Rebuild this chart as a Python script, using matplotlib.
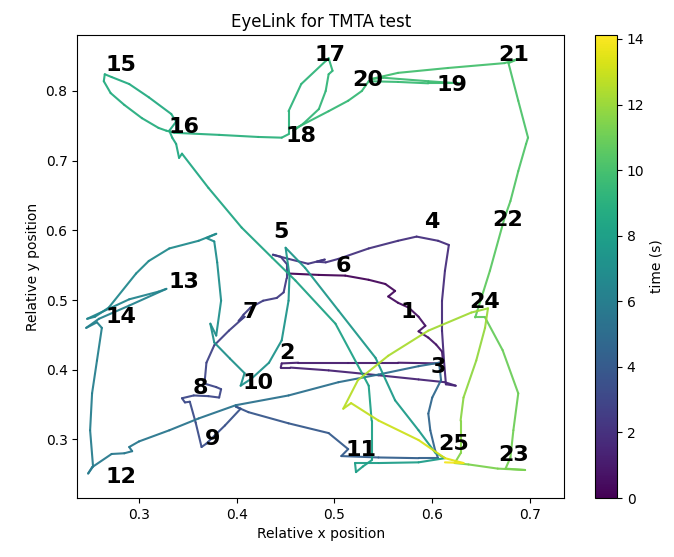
import numpy as np
import matplotlib
matplotlib.use("Agg")
import matplotlib.pyplot as plt
from matplotlib.collections import LineCollection
from matplotlib.colors import Normalize

# Gaze trajectory (relative screen coordinates) and time stamps (s)
gaze_x = [0.453, 0.484, 0.511, 0.535, 0.552, 0.562, 0.555, 0.565, 0.576, 0.586,
          0.593, 0.586, 0.596, 0.604, 0.610, 0.611, 0.606, 0.565, 0.514, 0.463,
          0.446, 0.445, 0.455, 0.494, 0.545, 0.586, 0.613, 0.624, 0.614, 0.612,
          0.610, 0.610, 0.613, 0.617, 0.606, 0.584, 0.565, 0.535, 0.504, 0.491,
          0.482, 0.490, 0.473, 0.453, 0.437, 0.445, 0.451, 0.451, 0.448, 0.441,
          0.427, 0.414, 0.407, 0.402, 0.408, 0.392, 0.377, 0.369, 0.367, 0.379,
          0.384, 0.382, 0.371, 0.356, 0.344, 0.347, 0.352, 0.358, 0.364, 0.369,
          0.388, 0.404, 0.399, 0.412, 0.453, 0.494, 0.514, 0.507, 0.545, 0.586,
          0.606, 0.603, 0.598, 0.596, 0.600, 0.609, 0.607, 0.586, 0.545, 0.504,
          0.453, 0.399, 0.361, 0.331, 0.300, 0.290, 0.293, 0.285, 0.272, 0.252,
          0.248, 0.253, 0.250, 0.252, 0.257, 0.262, 0.257, 0.246, 0.259, 0.290,
          0.328, 0.320, 0.290, 0.247, 0.255, 0.269, 0.297, 0.310, 0.331, 0.361,
          0.379, 0.369, 0.377, 0.380, 0.384, 0.379, 0.373, 0.377, 0.393, 0.408,
          0.404, 0.415, 0.433, 0.446, 0.453, 0.454, 0.450, 0.470, 0.504, 0.542,
          0.562, 0.586, 0.603, 0.613, 0.586, 0.545, 0.521, 0.522, 0.529, 0.538,
          0.538, 0.535, 0.501, 0.460, 0.436, 0.405, 0.371, 0.344, 0.341, 0.338,
          0.334, 0.331,
          0.338, 0.333, 0.310, 0.290, 0.272, 0.265, 0.264, 0.271, 0.285, 0.303,
          0.320, 0.328,
          0.336, 0.382, 0.422, 0.446, 0.453, 0.453, 0.466, 0.491,
          0.494, 0.498, 0.494, 0.491, 0.484, 0.468, 0.458, 0.461, 0.494, 0.514,
          0.528, 0.535, 0.565, 0.596, 0.627, 0.596, 0.550, 0.537, 0.565, 0.616,
          0.674, 0.688, 0.678, 0.688, 0.698, 0.696, 0.688, 0.680, 0.674, 0.659,
          0.644, 0.654, 0.672, 0.688, 0.683, 0.680, 0.675, 0.695, 0.667, 0.637,
          0.623, 0.629, 0.629, 0.632, 0.645, 0.654, 0.657, 0.640, 0.596, 0.555,
          0.524, 0.509, 0.517, 0.545, 0.586, 0.613, 0.632, 0.613]
gaze_y = [0.538, 0.536, 0.535, 0.529, 0.523, 0.513, 0.505, 0.496, 0.489, 0.476,
          0.463, 0.455, 0.446, 0.436, 0.426, 0.413, 0.409, 0.410, 0.410, 0.410,
          0.409, 0.403, 0.403, 0.399, 0.392, 0.386, 0.382, 0.377, 0.379, 0.413,
          0.456, 0.499, 0.542, 0.579, 0.585, 0.591, 0.585, 0.574, 0.559, 0.554,
          0.555, 0.558, 0.552, 0.559, 0.565, 0.562, 0.552, 0.531, 0.511, 0.503,
          0.499, 0.489, 0.479, 0.470, 0.476, 0.456, 0.435, 0.410, 0.380, 0.375,
          0.372, 0.360, 0.362, 0.363, 0.359, 0.353, 0.354, 0.324, 0.289, 0.294,
          0.320, 0.344, 0.347, 0.339, 0.323, 0.309, 0.286, 0.276, 0.274, 0.273,
          0.273, 0.284, 0.313, 0.337, 0.360, 0.385, 0.410, 0.405, 0.393, 0.382,
          0.363, 0.349, 0.330, 0.313, 0.297, 0.289, 0.283, 0.280, 0.279, 0.260,
          0.251, 0.261, 0.313, 0.366, 0.413, 0.460, 0.468, 0.460, 0.473, 0.492,
          0.516, 0.512, 0.501, 0.473, 0.476, 0.489, 0.538, 0.556, 0.574, 0.585,
          0.595, 0.589, 0.584, 0.554, 0.499, 0.449, 0.466, 0.439, 0.416, 0.395,
          0.377, 0.387, 0.410, 0.442, 0.499, 0.535, 0.575, 0.546, 0.485, 0.417,
          0.356, 0.313, 0.281, 0.273, 0.267, 0.266, 0.266, 0.253, 0.261, 0.270,
          0.327, 0.377, 0.466, 0.528, 0.561, 0.604, 0.661, 0.710, 0.704, 0.724,
          0.733, 0.743,
          0.756, 0.767, 0.791, 0.810, 0.820, 0.824, 0.814, 0.797, 0.780, 0.761,
          0.747, 0.743,
          0.740, 0.737, 0.734, 0.733, 0.738, 0.771, 0.810, 0.843,
          0.847, 0.829, 0.824, 0.800, 0.774, 0.753, 0.743, 0.747, 0.771, 0.786,
          0.800, 0.814, 0.813, 0.811, 0.811, 0.814, 0.819, 0.817, 0.826, 0.833,
          0.840, 0.846, 0.840, 0.786, 0.733, 0.724, 0.685, 0.642, 0.618, 0.542,
          0.475, 0.475, 0.428, 0.366, 0.313, 0.274, 0.258, 0.256, 0.258, 0.264,
          0.266, 0.280, 0.327, 0.360, 0.413, 0.460, 0.488, 0.482, 0.456, 0.420,
          0.385, 0.344, 0.352, 0.327, 0.299, 0.273, 0.266, 0.267]
gaze_t = [0.00, 0.08, 0.16, 0.24, 0.32, 0.38, 0.43, 0.48, 0.54, 0.60,
          0.66, 0.70, 0.75, 0.80, 0.85, 0.90, 0.93, 1.00, 1.08, 1.16,
          1.20, 1.22, 1.25, 1.32, 1.40, 1.46, 1.50, 1.53, 1.55, 1.62,
          1.70, 1.77, 1.84, 1.90, 1.93, 1.97, 2.00, 2.06, 2.13, 2.17,
          2.20, 2.22, 2.26, 2.31, 2.36, 2.39, 2.42, 2.46, 2.50, 2.53,
          2.57, 2.62, 2.66, 2.69, 2.71, 2.76, 2.83, 2.89, 2.96, 3.00,
          3.02, 3.05, 3.08, 3.12, 3.16, 3.19, 3.21, 3.30, 3.40, 3.44,
          3.55, 3.65, 3.68, 3.74, 3.88, 4.00, 4.10, 4.16, 4.25, 4.35,
          4.42, 4.46, 4.55, 4.62, 4.70, 4.80, 4.88, 4.95, 5.05, 5.15,
          5.27, 5.38, 5.47, 5.55, 5.62, 5.65, 5.67, 5.70, 5.73, 5.80,
          5.83, 5.86, 5.95, 6.03, 6.10, 6.17, 6.19, 6.21, 6.24, 6.30,
          6.38, 6.40, 6.46, 6.53, 6.55, 6.59, 6.66, 6.70, 6.75, 6.80,
          6.84, 6.86, 6.88, 6.92, 6.98, 7.03, 7.05, 7.08, 7.12, 7.16,
          7.19, 7.22, 7.26, 7.31, 7.37, 7.41, 7.45, 7.50, 7.57, 7.64,
          7.70, 7.75, 7.79, 7.81, 7.85, 7.89, 7.92, 7.94, 7.96, 7.98,
          8.03, 8.08, 8.17, 8.25, 8.30, 8.36, 8.43, 8.49, 8.50, 8.52,
          8.54, 8.56,
          8.58, 8.60, 8.64, 8.68, 8.71, 8.73, 8.75, 8.78, 8.81, 8.85,
          8.89, 8.91,
          8.93, 9.00, 9.06, 9.10, 9.12, 9.16, 9.21, 9.26,
          9.27, 9.30, 9.31, 9.34, 9.37, 9.40, 9.42, 9.43, 9.48, 9.51,
          9.54, 9.56, 9.61, 9.65, 9.69, 9.73, 9.79, 9.81, 9.86, 9.93,
          10.02, 10.05, 10.07, 10.15, 10.24, 10.26, 10.33, 10.40, 10.45, 10.60,
          10.75, 10.78, 10.88, 10.98, 11.07, 11.14, 11.18, 11.23, 11.30, 11.40,
          11.45, 11.50, 11.62, 11.72, 11.85, 11.95, 12.02, 12.10, 12.25, 12.42,
          12.56, 12.70, 12.73, 12.90, 13.15, 13.40, 13.60, 14.10]

# Target labels (TMT numbers) and their positions
target_labels = [str(i) for i in range(1, 26)]
target_x = [0.5755, 0.4510, 0.6061, 0.6000, 0.4449, 0.5092, 0.4143, 0.3633, 0.3755, 0.4214,
            0.5276, 0.2816, 0.3459, 0.2816, 0.2816, 0.3459, 0.4959, 0.4653, 0.6204, 0.5337,
            0.6837, 0.6776, 0.6837, 0.6531, 0.6214]
target_y = [0.4834, 0.4246, 0.4032, 0.6123, 0.5980, 0.5493, 0.4834, 0.3731, 0.3000, 0.3802,
            0.2842, 0.2456, 0.5264, 0.4762, 0.8372, 0.7484, 0.8516, 0.7355, 0.8086, 0.8158,
            0.8516, 0.6152, 0.2771, 0.4976, 0.2928]

t_max = 14.12
cbar_ticks = [0, 2, 4, 6, 8, 10, 12, 14]

fig = plt.figure(figsize=(6.74, 5.57), dpi=100)
ax = fig.add_axes([0.1147, 0.1059, 0.7221, 0.8312])
cax = fig.add_axes([0.8828, 0.1059, 0.0326, 0.8312])

pts = np.column_stack([gaze_x, gaze_y])
segs = np.stack([pts[:-1], pts[1:]], axis=1)
tt = np.asarray(gaze_t)
seg_t = 0.5 * (tt[:-1] + tt[1:])
norm = Normalize(vmin=0, vmax=t_max)
lc = LineCollection(segs, cmap='viridis', norm=norm, linewidths=1.5,
                    capstyle='round', joinstyle='round', alpha=0.95)
lc.set_array(seg_t)
ax.add_collection(lc)

for lab, x, y in zip(target_labels, target_x, target_y):
    ax.text(x, y, lab, fontsize=16, fontweight='bold', ha='center', va='center', color='black')

ax.set_xlim(0.2369, 0.7348)
ax.set_ylim(0.2158, 0.8803)
ax.set_xticks([0.3, 0.4, 0.5, 0.6, 0.7])
ax.set_yticks([0.3, 0.4, 0.5, 0.6, 0.7, 0.8])
ax.set_title("EyeLink for TMTA test")
ax.set_xlabel("Relative x position")
ax.set_ylabel("Relative y position")

cb = fig.colorbar(lc, cax=cax)
cb.set_ticks(cbar_ticks)
cb.set_label("time (s)")
cb.solids.set_alpha(1)

fig.savefig("out.png", dpi=100)
